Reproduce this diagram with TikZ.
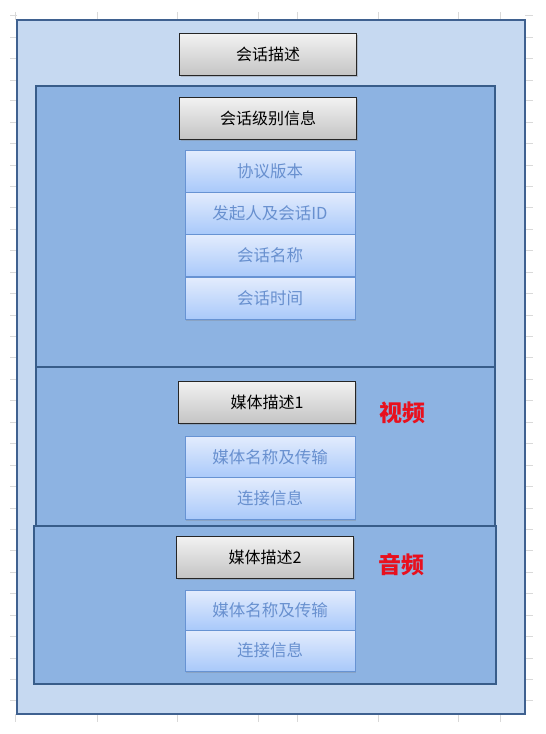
\documentclass[tikz,border=0pt]{standalone}
\usepackage{fontspec}
\setmainfont{Noto Sans CJK SC}
\usetikzlibrary{shadows}
\definecolor{outerfill}{HTML}{C6D9F1}
\definecolor{outerdraw}{HTML}{3F6190}
\definecolor{secfill}{HTML}{8DB3E2}
\definecolor{secdraw}{HTML}{385D8A}
\definecolor{itemtop}{HTML}{E3ECFD}
\definecolor{itembot}{HTML}{A9C9FA}
\definecolor{itemdraw}{HTML}{6793D3}
\definecolor{itemtext}{HTML}{6890CF}
\definecolor{grid}{HTML}{D9D9D9}
\definecolor{redlab}{HTML}{E8101E}
\tikzset{
  px/.style={x=1pt,y=-1pt},
  outerbox/.style={fill=outerfill,draw=outerdraw,line width=1.6pt},
  secbox/.style={fill=secfill,draw=secdraw,line width=1.6pt},
  titlebox/.style={draw=black!85,line width=0.9pt,top color=black!5,bottom color=black!23,
    minimum width=177pt,minimum height=42pt,inner sep=0pt,font=\fontsize{16}{19}\selectfont,
    drop shadow={shadow xshift=1pt,shadow yshift=-1.5pt,opacity=0.35}},
  itembox/.style={draw=itemdraw,line width=0.9pt,top color=itemtop,bottom color=itembot,
    minimum width=170pt,minimum height=42pt,inner sep=0pt,text=itemtext,font=\fontsize{16.5}{19}\selectfont},
  redtext/.style={text=redlab,font=\fontsize{23}{26}\selectfont\bfseries},
  gridline/.style={draw=grid,line width=0.6pt}
}
\begin{document}
\begin{tikzpicture}[px]
\useasboundingbox (0,0) rectangle (546,734);
% faint spreadsheet grid in margins
\foreach \x in {15,97,177,258,297,378,458,500}{
  \draw[gridline] (\x,12) -- (\x,20);
  \draw[gridline] (\x,714) -- (\x,722);
}
\foreach \y in {15,37,58,80,100,122,143,165,186,207,229,250,272,293,315,336,357,379,400,422,443,465,486,508,529,550,572,593,615,636,658,679,700}{
  \draw[gridline] (10,\y) -- (17,\y);
  \draw[gridline] (525,\y) -- (533,\y);
}
% outer box
\draw[outerbox] (17,20) rectangle (525,714);
% sections
\draw[secbox] (36,86) rectangle (495,367);
\draw[secbox] (36,367) rectangle (495,526);
\draw[secbox] (34,526) rectangle (496,684);
% titles
\node[titlebox] (t0) at (268,54.5) {会话描述};
\node[titlebox] (t1) at (268,118) {会话级别信息};
\node[titlebox] (t2) at (267,402) {媒体描述1};
\node[titlebox] (t3) at (265,557) {媒体描述2};
% items section 1
\node[itembox] (a1) at (270,171) {协议版本};
\node[itembox] (a2) at (270,213) {发起人及会话ID};
\node[itembox] (a3) at (270,255.5) {会话名称};
\node[itembox,drop shadow={shadow xshift=0.5pt,shadow yshift=-1.5pt,opacity=0.3}] (a4) at (270,298.5) {会话时间};
% items section 2
\node[itembox] (b1) at (270,457) {媒体名称及传输};
\node[itembox,drop shadow={shadow xshift=0.5pt,shadow yshift=-1.5pt,opacity=0.3}] (b2) at (270,498.5) {连接信息};
% items section 3
\node[itembox,minimum height=40pt] (c1) at (270,610) {媒体名称及传输};
\node[itembox,minimum height=41pt,drop shadow={shadow xshift=0.5pt,shadow yshift=-1.5pt,opacity=0.3}] (c2) at (270,650.5) {连接信息};
% red labels
\node[redtext] (v) at (402,413) {视频};
\node[redtext] (au) at (401,565) {音频};
\end{tikzpicture}
\end{document}
